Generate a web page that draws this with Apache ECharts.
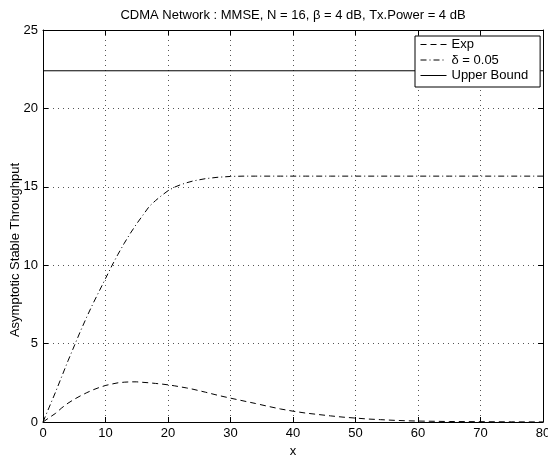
<!DOCTYPE html>
<html>
<head>
<meta charset="utf-8">
<script src="https://cdn.jsdelivr.net/npm/echarts@6/dist/echarts.min.js"></script>
<style>
  html, body { margin: 0; padding: 0; background: #fff; }
  #chart { width: 548px; height: 457px; }
</style>
</head>
<body>
<div id="chart"></div>
<script>
// sample points along x (shared by both curves)
const xs = [0, 1, 2, 3, 4, 5, 6, 7, 8, 9, 10, 11, 12, 13, 14, 15, 16, 17, 18, 19, 20,
    21, 22, 23, 24, 26, 28, 30, 32, 34, 36, 38, 40, 42, 44, 46, 48, 50, 52, 54, 56, 58,
    60, 65, 70, 75, 80];

const expVals = [0, 0.28, 0.55, 0.9, 1.2, 1.45, 1.67, 1.87, 2.05, 2.2, 2.33, 2.42, 2.5,
    2.54, 2.56, 2.56, 2.53, 2.5, 2.46, 2.42, 2.37, 2.31, 2.24, 2.17, 2.09, 1.9, 1.7, 1.52,
    1.35, 1.18, 1.0, 0.83, 0.69, 0.57, 0.48, 0.39, 0.31, 0.25, 0.19, 0.15, 0.11, 0.08,
    0.06, 0.03, 0.02, 0.01, 0.005];

const deltaVals = [0, 0.95, 1.9, 2.9, 3.9, 4.85, 5.8, 6.7, 7.55, 8.35, 9.15, 9.95, 10.7,
    11.4, 12.05, 12.65, 13.2, 13.75, 14.12, 14.45, 14.75, 14.97, 15.13, 15.26, 15.37,
    15.52, 15.61, 15.66, 15.68, 15.68, 15.68, 15.68, 15.68, 15.68, 15.68, 15.68, 15.68,
    15.68, 15.68, 15.68, 15.68, 15.68, 15.68, 15.68, 15.68, 15.68, 15.68];

const boundX = [0, 80];
const boundVals = [22.4, 22.4];

const seriesNames = ['Exp', '\u03b4 = 0.05', 'Upper Bound'];
const titleText = 'CDMA Network : MMSE, N = 16, \u03b2 = 4 dB, Tx.Power = 4 dB';
const yName = 'Asymptotic Stable Throughput';

const pairs = (x, y) => x.map((v, i) => [v, y[i]]);

const font = 'Liberation Sans, Arial, Helvetica, sans-serif';
const gridLine = { show: true, lineStyle: { color: '#555', type: [1, 4], width: 1 } };

const baseAxis = {
    axisLine: { show: true, onZero: false, lineStyle: { color: '#000', width: 1 } },
    axisTick: { show: true, inside: true, length: 5, lineStyle: { color: '#000' } }
};

const chart = echarts.init(document.getElementById('chart'));

chart.setOption({
    animation: false,
    backgroundColor: '#fff',
    graphic: [
        {
            type: 'text', x: 293, y: 15,
            style: { text: titleText, font: '13px ' + font, fill: '#000', align: 'center', verticalAlign: 'middle' }
        },
        {
            // y label sits a bit below the plot centre in the original
            type: 'text', x: 15, y: 250, rotation: Math.PI / 2,
            style: { text: yName, font: '13px ' + font, fill: '#000', align: 'center', verticalAlign: 'middle' }
        }
    ],
    grid: { left: 43, right: 5, top: 30, bottom: 35, outerBoundsMode: 'none', containLabel: false },
    legend: {
        orient: 'vertical',
        left: 415,
        top: 36,
        padding: [2, 12, 5, 5],
        itemGap: 2.5,
        itemWidth: 26,
        itemHeight: 13,
        backgroundColor: '#fff',
        borderColor: '#000',
        borderWidth: 1,
        itemStyle: { color: 'rgba(0,0,0,0)', borderColor: 'rgba(0,0,0,0)', borderWidth: 0, opacity: 0 },
        lineStyle: { width: 1 },
        textStyle: { fontFamily: font, fontSize: 13, color: '#000' },
        data: seriesNames
    },
    xAxis: [
        Object.assign({}, baseAxis, {
            type: 'value', position: 'bottom', min: 0, max: 80, interval: 10,
            name: 'x', nameLocation: 'middle', nameGap: 17,
            nameTextStyle: { fontFamily: font, fontSize: 13, color: '#000' },
            axisLabel: { fontFamily: font, fontSize: 13, color: '#000', margin: 5 },
            splitLine: gridLine
        }),
        Object.assign({}, baseAxis, {
            type: 'value', position: 'top', min: 0, max: 80, interval: 10,
            axisLabel: { show: false }, splitLine: { show: false }
        })
    ],
    yAxis: [
        Object.assign({}, baseAxis, {
            type: 'value', position: 'left', min: 0, max: 25, interval: 5,
            axisLabel: { fontFamily: font, fontSize: 13, color: '#000', margin: 5 },
            splitLine: gridLine
        }),
        Object.assign({}, baseAxis, {
            type: 'value', position: 'right', min: 0, max: 25, interval: 5,
            axisLabel: { show: false }, splitLine: { show: false }
        })
    ],
    series: [
        {
            name: seriesNames[0], type: 'line', symbol: 'none',
            lineStyle: { color: '#000', width: 1, type: [6, 4] },
            itemStyle: { color: '#000' },
            data: pairs(xs, expVals)
        },
        {
            name: seriesNames[1], type: 'line', symbol: 'none',
            lineStyle: { color: '#000', width: 1, type: [6, 3, 1, 3] },
            itemStyle: { color: '#000' },
            data: pairs(xs, deltaVals)
        },
        {
            name: seriesNames[2], type: 'line', symbol: 'none',
            lineStyle: { color: '#000', width: 1, type: 'solid' },
            itemStyle: { color: '#000' },
            data: pairs(boundX, boundVals)
        }
    ]
});
</script>
</body>
</html>
